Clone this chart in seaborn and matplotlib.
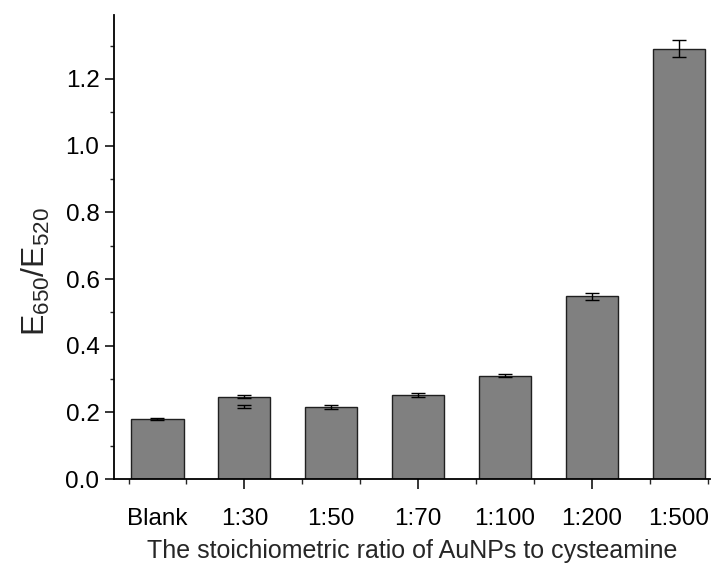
import numpy as np
import pandas as pd
import seaborn as sns
import matplotlib.pyplot as plt
from matplotlib.ticker import MultipleLocator, FixedLocator

# data
ratios = ['Blank', '1:30', '1:50', '1:70', '1:100', '1:200', '1:500']
ratio_values = [0.180, 0.247, 0.217, 0.253, 0.310, 0.548, 1.291]
ratio_errors = [0.003, 0.005, 0.006, 0.006, 0.004, 0.010, 0.026]
# second small error mark drawn inside the 1:30 bar
extra_cats = ['1:30']
extra_values = [0.218]
extra_errors = [0.005]

sns.set_style('ticks')
plt.rcParams['font.family'] = ['Liberation Sans', 'DejaVu Sans']
plt.rcParams['mathtext.default'] = 'regular'

df = pd.DataFrame({'ratio': ratios, 'value': ratio_values, 'err': ratio_errors})

fig = plt.figure(figsize=(7.19, 5.65), dpi=100)
ax = fig.add_axes([0.1586, 0.152, 0.8289, 0.8215])

sns.barplot(data=df, x='ratio', y='value', order=ratios, color='#808080',
            saturation=1, width=0.6, edgecolor='#202020', linewidth=1.0,
            errorbar=None, ax=ax)

pos = np.arange(len(ratios))
ax.errorbar(pos, df['value'], yerr=df['err'], fmt='none', ecolor='black',
            elinewidth=1.0, capsize=5, capthick=1.0)
extra_pos = [ratios.index(c) for c in extra_cats]
ax.errorbar(extra_pos, extra_values, yerr=extra_errors, fmt='none', ecolor='black',
            elinewidth=1.0, capsize=5, capthick=1.0)

ax.set_xlim(-0.5, 6.36)
ax.set_ylim(0, 1.392)

sns.despine(ax=ax)
for s in ['left', 'bottom']:
    ax.spines[s].set_linewidth(1.3)
    ax.spines[s].set_color('black')

# y ticks
ax.yaxis.set_major_locator(MultipleLocator(0.2))
ax.yaxis.set_minor_locator(MultipleLocator(0.1))
ax.yaxis.set_major_formatter(plt.FormatStrFormatter('%.1f'))
ax.tick_params(axis='y', which='major', direction='out', length=6.5, width=1.1, pad=4,
               labelsize=17.5, colors='black')
ax.tick_params(axis='y', which='minor', direction='out', length=3, width=1.0)

# x ticks: labels at every category, long ticks every second, short ones in between
ax.set_xticks(pos)
ax.set_xticklabels(ratios)
minor_pos = [1 + k * 2 / 3 for k in range(-2, 9)]
ax.xaxis.set_minor_locator(FixedLocator(minor_pos))
ax.tick_params(axis='x', which='major', direction='out', length=7.5, width=1.1, pad=13,
               labelsize=17.5, colors='black')
ax.tick_params(axis='x', which='minor', direction='out', length=3.6, width=1.0)
for i, t in enumerate(ax.xaxis.get_major_ticks()):
    if i % 2 == 0:
        t.tick1line.set_visible(False)

ax.set_xlabel('The stoichiometric ratio of AuNPs to cysteamine', fontsize=18, labelpad=7)
ax.set_ylabel('E$_{650}$/E$_{520}$', fontsize=23)
ax.yaxis.set_label_coords(-0.104, 0.448)

fig.savefig('out.png', dpi=100)
